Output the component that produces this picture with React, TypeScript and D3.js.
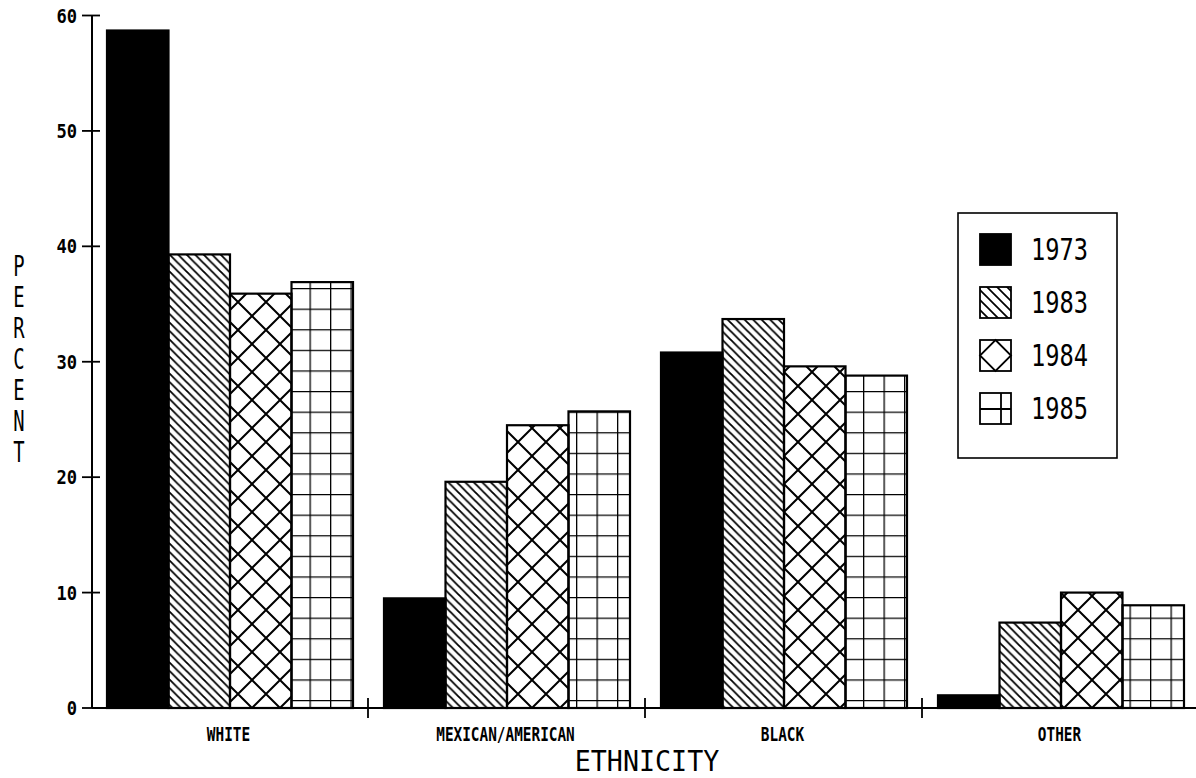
import { useEffect, useRef } from 'react';
import * as d3 from 'd3';

const categories = ["WHITE", "MEXICAN/AMERICAN", "BLACK", "OTHER"];
const years = ["1973", "1983", "1984", "1985"];
const pct1973 = [58.7, 9.5, 30.8, 1.1];
const pct1983 = [39.3, 19.6, 33.7, 7.4];
const pct1984 = [35.9, 24.5, 29.6, 10.0];
const pct1985 = [36.9, 25.7, 28.8, 8.9];
const yTicks = [0, 10, 20, 30, 40, 50, 60];

const FONT = "'DejaVu Sans Mono', monospace";

export default function App() {
  const svgRef = useRef<SVGSVGElement>(null);

  useEffect(() => {
    if (!svgRef.current) return;
    const svg = d3.select(svgRef.current);
    svg.selectAll("*").remove();

    const W = 1196, H = 778;
    svg.attr("width", W).attr("height", H);
    svg.append("rect").attr("width", W).attr("height", H).attr("fill", "#fff");

    const axisX = 92;
    const series = [pct1973, pct1983, pct1984, pct1985];
    const fills = ["#000", "url(#diag)", "url(#cross)", "url(#grid)"];

    const x0 = d3.scaleBand<string>().domain(categories).range([91, 1199]);
    const x1 = d3.scaleBand<string>().domain(years).range([16, 262]);
    const y = d3.scaleLinear().domain([0, 60]).range([708, 15.5]);

    // hatch patterns, in page coordinates so they line up like a plotter fill
    const defs = svg.append("defs");
    const diag = defs.append("pattern").attr("id", "diag")
      .attr("patternUnits", "userSpaceOnUse").attr("width", 8.5).attr("height", 8.5);
    diag.append("path")
      .attr("d", "M-2,-2 L10.5,10.5 M-2,6.5 L2,10.5 M6.5,-2 L10.5,2")
      .attr("stroke", "#000").attr("stroke-width", 1.8);

    const legDiag = defs.append("pattern").attr("id", "legdiag")
      .attr("patternUnits", "userSpaceOnUse").attr("width", 10).attr("height", 10);
    legDiag.append("path")
      .attr("d", "M-2,-2 L12,12 M-2,8 L2,12 M8,-2 L12,2")
      .attr("stroke", "#000").attr("stroke-width", 1.7);

    const cross = defs.append("pattern").attr("id", "cross")
      .attr("patternUnits", "userSpaceOnUse").attr("width", 28).attr("height", 28)
      .attr("x", 0).attr("y", 708);
    cross.append("path")
      .attr("d", "M-2,-2 L30,30 M30,-2 L-2,30")
      .attr("stroke", "#000").attr("stroke-width", 2);

    const grid = defs.append("pattern").attr("id", "grid")
      .attr("patternUnits", "userSpaceOnUse").attr("width", 20.5).attr("height", 20.6)
      .attr("x", 2).attr("y", 700);
    grid.append("path")
      .attr("d", "M0,0 H20.5 M0,0 V20.6")
      .attr("stroke", "#000").attr("stroke-width", 2.6);

    // bars
    categories.forEach((cat, ci) => {
      years.forEach((yr, si) => {
        const v = series[si][ci];
        svg.append("rect")
          .attr("x", (x0(cat) ?? 0) + (x1(yr) ?? 0))
          .attr("y", y(v))
          .attr("width", x1.bandwidth())
          .attr("height", y(0) - y(v))
          .attr("fill", fills[si])
          .attr("stroke", "#000")
          .attr("stroke-width", 2.2);
      });
    });

    // y axis
    svg.append("line")
      .attr("x1", axisX).attr("x2", axisX)
      .attr("y1", y(60)).attr("y2", y(0))
      .attr("stroke", "#000").attr("stroke-width", 2);
    yTicks.forEach(t => {
      svg.append("line")
        .attr("x1", axisX - 10).attr("x2", axisX + 8)
        .attr("y1", y(t)).attr("y2", y(t))
        .attr("stroke", "#000").attr("stroke-width", 1.8);
      svg.append("text")
        .attr("transform", `translate(77,${y(t) + 7}) scale(0.9,1)`)
        .attr("text-anchor", "end")
        .style("font-family", FONT)
        .style("font-size", "19px")
        .style("font-weight", "bold")
        .text(String(t));
    });

    // x axis
    svg.append("line")
      .attr("x1", axisX).attr("x2", W)
      .attr("y1", y(0)).attr("y2", y(0))
      .attr("stroke", "#000").attr("stroke-width", 2);
    categories.forEach((cat, ci) => {
      const bx = x0(cat) ?? 0;
      if (ci > 0) {
        svg.append("line")
          .attr("x1", bx).attr("x2", bx)
          .attr("y1", y(0) - 10).attr("y2", y(0) + 10)
          .attr("stroke", "#000").attr("stroke-width", 1.8);
      }
      svg.append("text")
        .attr("transform", `translate(${bx + x0.bandwidth() / 2 - 1},741) scale(0.72,1)`)
        .attr("text-anchor", "middle")
        .style("font-family", FONT)
        .style("font-size", "20px")
        .style("font-weight", "bold")
        .text(cat);
    });

    // axis titles
    svg.append("text")
      .attr("transform", `translate(647,771) scale(0.92,1)`)
      .attr("text-anchor", "middle")
      .style("font-family", FONT)
      .style("font-size", "29px")
      .text("ETHNICITY");

    "PERCENT".split("").forEach((ch, i) => {
      svg.append("text")
        .attr("transform", `translate(19,${276 + i * 31}) scale(0.65,1)`)
        .attr("text-anchor", "middle")
        .style("font-family", FONT)
        .style("font-size", "29px")
        .text(ch);
    });

    // legend
    svg.append("rect")
      .attr("x", 958).attr("y", 213)
      .attr("width", 159).attr("height", 245)
      .attr("fill", "#fff")
      .attr("stroke", "#000").attr("stroke-width", 1.6);

    const legFills = ["#000", "url(#legdiag)", "none", "none"];
    years.forEach((yr, i) => {
      const sx = 980, sy = 234 + i * 53, s = 31;
      const sw = svg.append("g");
      sw.append("rect")
        .attr("x", sx).attr("y", sy).attr("width", s).attr("height", s)
        .attr("fill", legFills[i])
        .attr("stroke", "#000").attr("stroke-width", 1.8);
      if (i === 2) {
        sw.append("path")
          .attr("d", `M${sx + s / 2},${sy} L${sx + s},${sy + s / 2} L${sx + s / 2},${sy + s} L${sx},${sy + s / 2} Z`)
          .attr("fill", "none").attr("stroke", "#000").attr("stroke-width", 1.8);
      }
      if (i === 3) {
        sw.append("path")
          .attr("d", `M${sx + 21},${sy} V${sy + s} M${sx},${sy + 16} H${sx + s}`)
          .attr("fill", "none").attr("stroke", "#000").attr("stroke-width", 1.8);
      }
      svg.append("text")
        .attr("transform", `translate(1031,${260 + i * 53}) scale(0.79,1)`)
        .style("font-family", FONT)
        .style("font-size", "30px")
        .text(yr);
    });
  }, []);

  return <svg ref={svgRef} style={{ position: "absolute", left: 0, top: 0, display: "block" }}></svg>;
}
